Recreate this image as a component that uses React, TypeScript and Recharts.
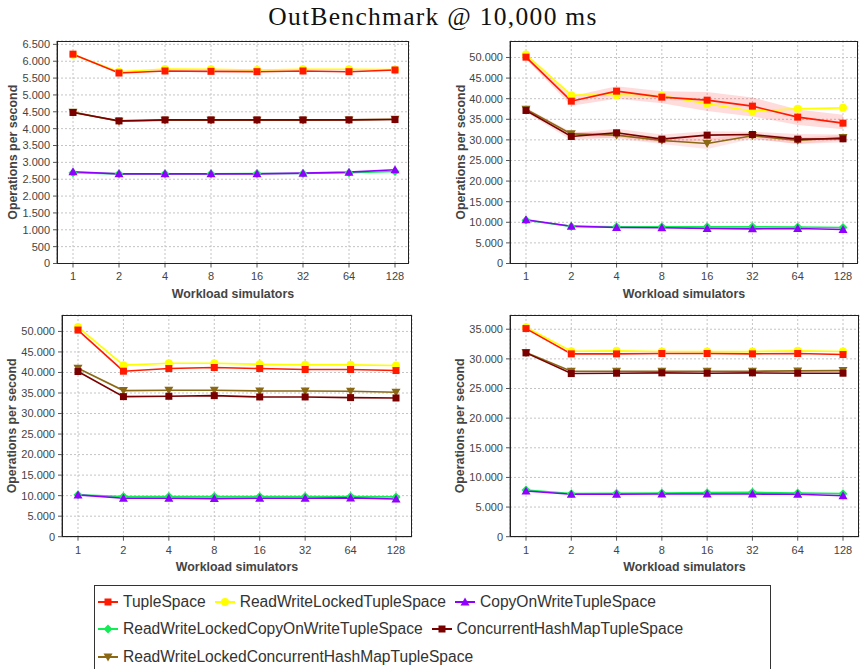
import React from 'react';
import { ComposedChart, Line, Area, XAxis, YAxis, CartesianGrid, Label } from 'recharts';

// ---------- categories & series ----------
const simulators = ['1', '2', '4', '8', '16', '32', '64', '128'];

const seriesKeys = ['ts', 'rwl', 'cow', 'rwlcow', 'chm', 'rwlchm'];
const seriesNames = [
  'TupleSpace',
  'ReadWriteLockedTupleSpace',
  'CopyOnWriteTupleSpace',
  'ReadWriteLockedCopyOnWriteTupleSpace',
  'ConcurrentHashMapTupleSpace',
  'ReadWriteLockedConcurrentHashMapTupleSpace',
];
const seriesColors = ['#ff1a00', '#ffff00', '#8f00ff', '#11ee55', '#7a0000', '#8b6914'];
const seriesShapes = ['square', 'circle', 'triangle', 'diamond', 'square', 'triangleDown'];

// ---------- panel 1 (top-left) ----------
const p1TupleSpace = [6210, 5650, 5710, 5700, 5690, 5710, 5690, 5740];
const p1ReadWriteLocked = [6190, 5690, 5770, 5760, 5740, 5760, 5760, 5750];
const p1CopyOnWrite = [2720, 2660, 2660, 2660, 2660, 2680, 2710, 2780];
const p1RWLCopyOnWrite = [2690, 2660, 2660, 2660, 2670, 2670, 2690, 2730];
const p1ConcurrentHashMap = [4480, 4230, 4260, 4260, 4260, 4260, 4260, 4270];
const p1RWLConcurrentHashMap = [4490, 4220, 4250, 4250, 4250, 4250, 4260, 4280];
const p1Ticks = [0, 500, 1000, 1500, 2000, 2500, 3000, 3500, 4000, 4500, 5000, 5500, 6000, 6500];

// ---------- panel 2 (top-right) ----------
const p2TupleSpace = [50080, 39400, 41830, 40370, 39640, 38190, 35520, 34060];
const p2ReadWriteLocked = [50730, 40860, 40860, 40700, 38750, 36970, 37540, 37780];
const p2CopyOnWrite = [10600, 9060, 8740, 8660, 8500, 8410, 8500, 8250];
const p2RWLCopyOnWrite = [10500, 9000, 8900, 8900, 8900, 8900, 8850, 8750];
const p2ConcurrentHashMap = [37140, 30830, 31720, 30180, 31150, 31310, 30180, 30260];
const p2RWLConcurrentHashMap = [37460, 31470, 31150, 29850, 29130, 30990, 29850, 30580];
const p2TupleSpaceLow = [49600, 38300, 40000, 38900, 37000, 35700, 33600, 32600];
const p2TupleSpaceHigh = [50500, 40600, 43000, 41800, 41600, 40300, 37400, 36100];
const p2ConcurrentHashMapLow = [36700, 29900, 30600, 29300, 29800, 30200, 29000, 29400];
const p2ConcurrentHashMapHigh = [37500, 31700, 32700, 31300, 32100, 32000, 31400, 31300];
const p2RWLConcurrentHashMapLow = [37100, 30800, 30300, 29000, 27800, 30300, 29000, 29900];
const p2RWLConcurrentHashMapHigh = [37800, 32000, 31800, 30600, 30300, 31600, 30600, 31200];
const p2Ticks = [0, 5000, 10000, 15000, 20000, 25000, 30000, 35000, 40000, 45000, 50000];

// ---------- panel 3 (bottom-left) ----------
const p3TupleSpace = [50330, 40310, 40960, 41210, 40960, 40720, 40720, 40470];
const p3ReadWriteLocked = [51060, 41780, 42260, 42260, 42020, 41860, 41860, 41690];
const p3CopyOnWrite = [10180, 9360, 9360, 9280, 9360, 9360, 9450, 9200];
const p3RWLCopyOnWrite = [10200, 9770, 9770, 9770, 9770, 9770, 9770, 9690];
const p3ConcurrentHashMap = [40230, 34120, 34200, 34360, 34040, 34040, 33880, 33790];
const p3RWLConcurrentHashMap = [41040, 35590, 35670, 35670, 35500, 35500, 35420, 35180];
const p3Ticks = [0, 5000, 10000, 15000, 20000, 25000, 30000, 35000, 40000, 45000, 50000];

// ---------- panel 4 (bottom-right) ----------
const p4TupleSpace = [35110, 30840, 30840, 30900, 30900, 30840, 30900, 30730];
const p4ReadWriteLocked = [35340, 31290, 31350, 31230, 31230, 31230, 31350, 31230];
const p4CopyOnWrite = [7710, 7150, 7150, 7200, 7200, 7200, 7150, 6920];
const p4RWLCopyOnWrite = [7880, 7260, 7320, 7370, 7430, 7480, 7370, 7260];
const p4ConcurrentHashMap = [31010, 27520, 27580, 27640, 27580, 27640, 27580, 27580];
const p4RWLConcurrentHashMap = [31060, 27920, 27920, 27920, 27920, 27920, 27970, 28020];
const p4Ticks = [0, 5000, 10000, 15000, 20000, 25000, 30000, 35000];

// ---------- helpers ----------
type Band = { key: string; low: number[]; high: number[]; color: string; opacity: number };

function buildRows(values: number[][], bands: Band[]) {
  return simulators.map((s, i) => {
    const row: any = { sim: s };
    seriesKeys.forEach((k, j) => {
      row[k] = values[j][i];
    });
    bands.forEach((b) => {
      row[b.key] = [b.low[i], b.high[i]];
    });
    return row;
  });
}

const fmt = (v: number) => String(v).replace(/\B(?=(\d{3})+(?!\d))/g, '.');

const SANS = '"Liberation Sans", Arial, Helvetica, sans-serif';

function Marker(props: any) {
  const { cx, cy, shape, color } = props;
  if (cx == null || cy == null || isNaN(cx) || isNaN(cy)) return null;
  switch (shape) {
    case 'square':
      return <rect x={cx - 3.5} y={cy - 3.5} width={7} height={7} fill={color} />;
    case 'circle':
      return <circle cx={cx} cy={cy} r={4} fill={color} />;
    case 'triangle':
      return <polygon points={`${cx},${cy - 4.5} ${cx + 4.5},${cy + 3.5} ${cx - 4.5},${cy + 3.5}`} fill={color} />;
    case 'triangleDown':
      return <polygon points={`${cx},${cy + 4.5} ${cx + 4.5},${cy - 3.5} ${cx - 4.5},${cy - 3.5}`} fill={color} />;
    case 'diamond':
      return <polygon points={`${cx},${cy - 4.5} ${cx + 4.5},${cy} ${cx},${cy + 4.5} ${cx - 4.5},${cy}`} fill={color} />;
    default:
      return null;
  }
}

const panels = [
  {
    id: 'p1', left: 0, top: 30, width: 420, height: 275,
    plot: { l: 57, t: 41, r: 409, b: 263.5 }, padL: 16, padR: 14, max: 6600, ticks: p1Ticks, yLabelX: 12.5,
    data: buildRows([p1TupleSpace, p1ReadWriteLocked, p1CopyOnWrite, p1RWLCopyOnWrite, p1ConcurrentHashMap, p1RWLConcurrentHashMap], []),
    bands: [] as Band[],
  },
  {
    id: 'p2', left: 432, top: 30, width: 432, height: 275,
    plot: { l: 510, t: 41, r: 858, b: 263.5 }, padL: 16, padR: 15, max: 54000, ticks: p2Ticks, yLabelX: 28.5,
    data: [] as any[],
    bands: [
      { key: 'tsBand', low: p2TupleSpaceLow, high: p2TupleSpaceHigh, color: '#ff0000', opacity: 0.14 },
      { key: 'rwlchmBand', low: p2RWLConcurrentHashMapLow, high: p2RWLConcurrentHashMapHigh, color: '#ff3030', opacity: 0.12 },
      { key: 'chmBand', low: p2ConcurrentHashMapLow, high: p2ConcurrentHashMapHigh, color: '#ff2020', opacity: 0.14 },
    ] as Band[],
  },
  {
    id: 'p3', left: 0, top: 305, width: 420, height: 275,
    plot: { l: 62, t: 315, r: 412, b: 536.7 }, padL: 16, padR: 16, max: 54000, ticks: p3Ticks, yLabelX: 12.5,
    data: buildRows([p3TupleSpace, p3ReadWriteLocked, p3CopyOnWrite, p3RWLCopyOnWrite, p3ConcurrentHashMap, p3RWLConcurrentHashMap], []),
    bands: [] as Band[],
  },
  {
    id: 'p4', left: 432, top: 305, width: 432, height: 275,
    plot: { l: 510, t: 315, r: 859, b: 536.7 }, padL: 16, padR: 16, max: 37400, ticks: p4Ticks, yLabelX: 28.5,
    data: buildRows([p4TupleSpace, p4ReadWriteLocked, p4CopyOnWrite, p4RWLCopyOnWrite, p4ConcurrentHashMap, p4RWLConcurrentHashMap], []),
    bands: [] as Band[],
  },
];
panels[1].data = buildRows(
  [p2TupleSpace, p2ReadWriteLocked, p2CopyOnWrite, p2RWLCopyOnWrite, p2ConcurrentHashMap, p2RWLConcurrentHashMap],
  panels[1].bands
);

function Panel({ p }: { p: (typeof panels)[number] }) {
  const margin = { top: p.plot.t - p.top, right: p.left + p.width - p.plot.r, left: 0, bottom: 0 };
  const yWidth = p.plot.l - p.left;
  const xHeight = p.top + p.height - p.plot.b;
  const order = [5, 4, 3, 2, 1, 0];
  return (
    <>
      <div style={{ position: 'absolute', left: p.left, top: p.top, width: p.width, height: p.height }}>
        <ComposedChart width={p.width} height={p.height} data={p.data} margin={margin}>
          <CartesianGrid stroke="#c4c4c4" strokeDasharray="2 2" />
          <XAxis
            dataKey="sim"
            type="category"
            scale="point"
            padding={{ left: p.padL, right: p.padR }}
            height={xHeight}
            interval={0}
            tickSize={4}
            tickMargin={5}
            stroke="#555"
            tick={{ fill: '#444', fontSize: 11, fontFamily: SANS }}
          >
            <Label
              content={(lp: any) => {
                const vb = lp.viewBox || {};
                const x = vb.x + vb.width / 2;
                const y = vb.y + 30;
                return (
                  <text x={x} y={y} textAnchor="middle" dominantBaseline="central" fill="#444" fontSize={12.4} fontWeight="bold" fontFamily={SANS}>
                    Workload simulators
                  </text>
                );
              }}
            />
          </XAxis>
          <YAxis
            type="number"
            domain={[0, p.max]}
            ticks={p.ticks}
            interval={0}
            width={yWidth}
            tickSize={4}
            tickMargin={3}
            stroke="#555"
            tickFormatter={fmt}
            tick={{ fill: '#444', fontSize: 11, fontFamily: SANS }}
          >
            <Label
              content={(lp: any) => {
                const vb = lp.viewBox || {};
                const x = vb.x + p.yLabelX;
                const y = vb.y + vb.height / 2;
                return (
                  <text x={x} y={y} transform={`rotate(-90 ${x} ${y})`} textAnchor="middle" dominantBaseline="central" fill="#444" fontSize={12.4} fontWeight="bold" fontFamily={SANS}>
                    Operations per second
                  </text>
                );
              }}
            />
          </YAxis>
          {p.bands.map((b) => (
            <Area
              key={b.key}
              dataKey={b.key}
              stroke="none"
              fill={b.color}
              fillOpacity={b.opacity}
              isAnimationActive={false}
              dot={false}
              activeDot={false}
            />
          ))}
          {order.map((j) => (
            <Line
              key={seriesKeys[j]}
              dataKey={seriesKeys[j]}
              name={seriesNames[j]}
              type="linear"
              stroke={seriesColors[j]}
              strokeWidth={1.6}
              isAnimationActive={false}
              activeDot={false}
              dot={(dp: any) => (
                <Marker key={`${p.id}-${seriesKeys[j]}-${dp.index}`} cx={dp.cx} cy={dp.cy} shape={seriesShapes[j]} color={seriesColors[j]} />
              )}
            />
          ))}
        </ComposedChart>
      </div>
      <div
        style={{
          position: 'absolute',
          left: p.plot.l,
          top: p.plot.t,
          width: p.plot.r - p.plot.l,
          height: p.plot.b - p.plot.t,
          border: '1px solid #222',
          boxSizing: 'border-box',
          pointerEvents: 'none',
        }}
      />
    </>
  );
}

function LegendIcon({ j }: { j: number }) {
  return (
    <svg width={20} height={14} style={{ display: 'block', flex: '0 0 auto' }}>
      <line x1={0} y1={7} x2={20} y2={7} stroke={seriesColors[j]} strokeWidth={2} />
      <Marker cx={10} cy={7} shape={seriesShapes[j]} color={seriesColors[j]} />
    </svg>
  );
}

export default function App() {
  return (
    <div
      style={{
        position: 'absolute',
        left: 0,
        top: 0,
        width: 864,
        height: 669,
        overflow: 'hidden',
        background: '#fff',
      }}
    >
      <svg width={864} height={36} style={{ position: 'absolute', left: 0, top: 0 }}>
        <text x={433} y={25} textAnchor="middle" fontFamily='"Liberation Serif", "Times New Roman", serif' fontSize={25.5} letterSpacing={1.3} fill="#111">
          OutBenchmark @ 10,000 ms
        </text>
      </svg>
      {panels.map((p) => (
        <Panel key={p.id} p={p} />
      ))}
      <div
        style={{
          position: 'absolute',
          left: 94,
          top: 585,
          width: 677,
          height: 100,
          border: '1px solid #333',
          boxSizing: 'border-box',
          padding: '2px 0 0 3px',
          display: 'flex',
          flexWrap: 'wrap',
          alignContent: 'flex-start',
          fontFamily: SANS,
          fontSize: 15.6,
          color: '#333',
        }}
      >
        {seriesNames.map((n, j) => (
          <div key={n} style={{ display: 'flex', alignItems: 'center', height: 27.5, marginRight: 9 }}>
            <LegendIcon j={j} />
            <span style={{ marginLeft: 5, whiteSpace: 'nowrap' }}>{n}</span>
          </div>
        ))}
      </div>
    </div>
  );
}
